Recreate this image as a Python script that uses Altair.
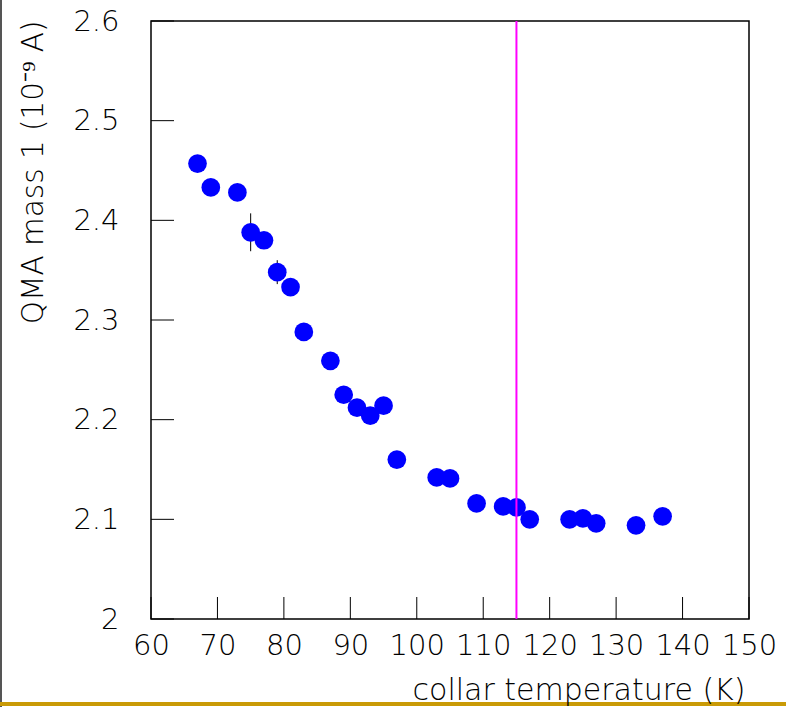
import altair as alt
import pandas as pd

# ---- data ----
temps = [67, 69, 73, 75, 77, 79, 81, 83, 87, 89, 91, 93, 95, 97,
         103, 105, 109, 113, 115, 117, 123, 125, 127, 133, 137]
qma = [2.457, 2.433, 2.428, 2.388, 2.380, 2.348, 2.333, 2.288, 2.259, 2.225,
       2.212, 2.204, 2.214, 2.160, 2.142, 2.141, 2.116, 2.113, 2.112, 2.100,
       2.100, 2.101, 2.096, 2.094, 2.103]
errs = [0.008, 0.008, 0.008, 0.019, 0.008, 0.012, 0.008, 0.008, 0.008, 0.008,
        0.008, 0.008, 0.008, 0.008, 0.008, 0.008, 0.008, 0.008, 0.008, 0.008,
        0.008, 0.008, 0.008, 0.008, 0.008]
x_ticks = [60, 70, 80, 90, 100, 110, 120, 130, 140, 150]
y_ticks = [2.0, 2.1, 2.2, 2.3, 2.4, 2.5, 2.6]
marker_line = [115]

FONT = "DejaVu Sans"
FW = 200
W, H = 598, 598

df = pd.DataFrame({"T": temps, "I": qma, "e": errs})
xs = alt.Scale(domain=[60, 150], nice=False, zero=False)
ys = alt.Scale(domain=[2.0, 2.6], nice=False, zero=False)

one = pd.DataFrame({"a": [0]})

left_border = alt.Chart(one).mark_rule(color="#555555", strokeWidth=2).encode(
    x=alt.value(-150), y=alt.value(-21), y2=alt.value(686))
bottom_border = alt.Chart(one).mark_rule(color="#c99a06", strokeWidth=4).encode(
    x=alt.value(-151), x2=alt.value(640), y=alt.value(683))

xt = alt.Chart(pd.DataFrame({"t": x_ticks})).mark_rule(color="#000", strokeWidth=1).encode(
    x=alt.X("t:Q", scale=xs), y=alt.value(H), y2=alt.value(H - 22))
yt = alt.Chart(pd.DataFrame({"t": y_ticks})).mark_rule(color="#000", strokeWidth=1).encode(
    y=alt.Y("t:Q", scale=ys), x=alt.value(0), x2=alt.value(23))

err = alt.Chart(df).transform_calculate(
    lo="datum.I - datum.e", hi="datum.I + datum.e"
).mark_rule(color="#000", strokeWidth=1).encode(
    x=alt.X("T:Q", scale=xs),
    y=alt.Y("lo:Q", scale=ys),
    y2="hi:Q",
)

pts = alt.Chart(df).mark_circle(color="#0000ff", opacity=1, size=350).encode(
    x=alt.X("T:Q", scale=xs, axis=alt.Axis(
        title="collar temperature (K)", values=x_ticks, format="~g",
        ticks=False, domain=False, grid=False, labelOverlap=False, labelFlush=False,
        labelBound=False, labelPadding=12, labelFontSize=29, labelFont=FONT,
        labelFontWeight=FW, labelColor="#000",
        titleFont=FONT, titleFontSize=30, titleFontWeight=FW, titleColor="#000",
        titleAnchor="end", titleAlign="right", titleBaseline="alphabetic",
        titleX=594, titleY=80, zindex=1)),
    y=alt.Y("I:Q", scale=ys, axis=alt.Axis(
        title="QMA mass 1 (10⁻⁹ A)", values=y_ticks, format="~g",
        ticks=False, domain=False, grid=False, labelOverlap=False, labelFlush=False,
        labelBound=False, labelPadding=32, labelFontSize=29, labelFont=FONT,
        labelFontWeight=FW, labelColor="#000", labelBaseline="middle",
        titleFont=FONT, titleFontSize=29.5, titleFontWeight=FW, titleColor="#000",
        titleAngle=270, titleAlign="right", titleBaseline="alphabetic",
        titleX=-109, titleY=-1)),
)

vline = alt.Chart(pd.DataFrame({"v": marker_line})).mark_rule(
    color="#ff00ff", strokeWidth=2).encode(x=alt.X("v:Q", scale=xs))

chart = alt.layer(left_border, bottom_border, xt, yt, err, pts, vline).properties(
    width=W, height=H,
    autosize=alt.AutoSizeParams(type="none"),
    padding={"left": 151, "top": 21, "right": 37, "bottom": 88},
    background="white",
).configure_view(stroke="#000", strokeWidth=1.5)

chart.save("out.html", embed_options={"renderer": "svg", "actions": False})
